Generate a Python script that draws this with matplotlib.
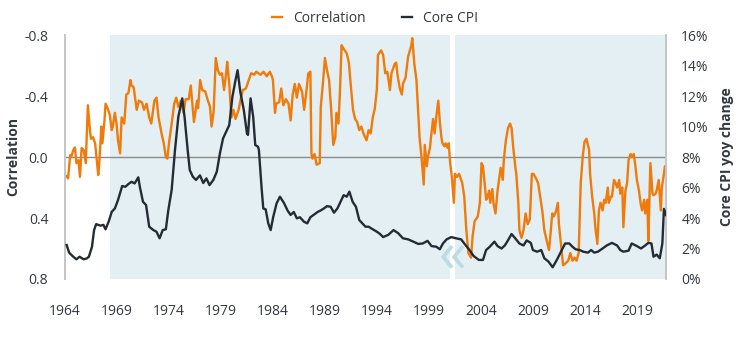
import matplotlib
matplotlib.use("Agg")
import matplotlib.pyplot as plt
from matplotlib.ticker import FixedLocator, FixedFormatter

plt.rcParams['font.family'] = ['Open Sans', 'DejaVu Sans']

# Core CPI yoy change (%)
cpi_years = [1964.16, 1964.4, 1964.8, 1965.1, 1965.4, 1965.8, 1966.1, 1966.3, 1966.6, 1966.8,
             1967.0, 1967.4, 1967.7, 1967.9, 1968.2, 1968.5, 1968.8, 1969.1, 1969.5, 1969.8,
             1970.1, 1970.4, 1970.7, 1971.05, 1971.2, 1971.5, 1971.8, 1972.1, 1972.5, 1972.8,
             1973.1, 1973.4, 1973.7, 1973.94, 1974.26, 1974.58, 1974.9, 1975.28, 1975.5, 1975.8,
             1976.0, 1976.3, 1976.6, 1976.98, 1977.3, 1977.6, 1977.9, 1978.27, 1978.6, 1978.9,
             1979.2, 1979.5, 1979.8, 1980.1, 1980.4, 1980.6, 1980.86, 1981.2, 1981.5, 1981.6,
             1981.85, 1982.1, 1982.3, 1982.56, 1982.65, 1982.9, 1983.07, 1983.3, 1983.55, 1983.78,
             1984.03, 1984.35, 1984.67, 1985.05, 1985.4, 1985.7, 1986.0, 1986.3, 1986.6, 1986.98,
             1987.3, 1987.6, 1987.9, 1988.3, 1988.6, 1988.9, 1989.2, 1989.55, 1989.87, 1990.2,
             1990.5, 1990.8, 1991.1, 1991.35, 1991.66, 1991.98, 1992.3, 1992.6, 1992.9, 1993.2,
             1993.6, 1994.0, 1994.3, 1994.6, 1995.1, 1995.6, 1996.05, 1996.5, 1997.0, 1997.5,
             1997.97, 1998.4, 1998.87, 1999.25, 1999.7, 2000.05, 2000.35, 2000.7, 2001.16, 2001.6,
             2002.1, 2002.4, 2002.9, 2003.3, 2003.8, 2004.2, 2004.5, 2004.86, 2005.3, 2005.6,
             2005.98, 2006.3, 2006.6, 2006.95, 2007.3, 2007.7, 2008.1, 2008.4, 2008.8, 2009.0,
             2009.4, 2009.8, 2010.1, 2010.5, 2010.9, 2011.3, 2011.7, 2012.1, 2012.5, 2012.8,
             2013.1, 2013.5, 2013.85, 2014.3, 2014.6, 2014.9, 2015.25, 2015.7, 2016.1, 2016.6,
             2017.1, 2017.4, 2017.7, 2018.2, 2018.5, 2019.0, 2019.4, 2019.8, 2020.1, 2020.4,
             2020.6, 2020.9, 2021.2, 2021.45, 2021.6, 2021.8]
cpi_values = [2.23, 1.73, 1.46, 1.29, 1.46, 1.29, 1.35, 1.46, 2.12, 3.21,
              3.6, 3.5, 3.55, 3.26, 3.76, 4.41, 4.63, 5.18, 6.1, 6.05,
              6.23, 6.38, 6.27, 6.67, 6.05, 5.07, 4.85, 3.43, 3.21, 3.1,
              2.67, 3.21, 3.26, 4.52, 5.84, 8.46, 10.64, 11.85, 10.64, 8.46,
              7.15, 6.71, 6.5, 6.8, 6.3, 6.6, 6.16, 6.5, 7.04, 8.24,
              9.22, 9.66, 10.1, 11.95, 13.05, 13.7, 12.28, 11.08, 9.55, 9.45,
              11.85, 10.64, 8.79, 8.68, 8.46, 6.05, 4.63, 4.57, 3.65, 3.21,
              4.08, 4.96, 5.4, 5.0, 4.5, 4.2, 4.4, 3.98, 4.05, 3.76,
              3.65, 4.05, 4.2, 4.4, 4.5, 4.63, 4.78, 4.74, 4.35, 4.63,
              5.07, 5.5, 5.4, 5.73, 5.07, 4.74, 3.87, 3.65, 3.43, 3.43,
              3.26, 3.1, 2.95, 2.75, 2.9, 3.21, 3.0, 2.67, 2.6, 2.45,
              2.3, 2.33, 2.5, 2.16, 2.12, 1.95, 2.33, 2.6, 2.75, 2.67,
              2.6, 2.33, 1.9, 1.51, 1.25, 1.25, 1.9, 2.12, 2.45, 2.16,
              2.0, 2.2, 2.53, 2.95, 2.67, 2.33, 2.2, 2.53, 2.37, 1.9,
              1.79, 1.9, 1.36, 1.14, 0.77, 1.25, 1.79, 2.33, 2.33, 2.12,
              1.95, 1.9, 1.79, 1.73, 1.9, 1.73, 1.79, 2.0, 2.2, 2.37,
              2.2, 1.9, 1.79, 1.86, 2.33, 2.16, 2.0, 2.2, 2.37, 2.33,
              1.46, 1.6, 1.36, 2.33, 4.6, 4.2]

# Correlation (left axis, inverted)
corr_years = [1964.16, 1964.3, 1964.5, 1964.6, 1964.8, 1964.96, 1965.1, 1965.3, 1965.44, 1965.6,
              1965.8, 1966.0, 1966.2, 1966.4, 1966.5, 1966.7, 1966.9, 1967.2, 1967.3, 1967.5,
              1967.6, 1967.8, 1967.9, 1968.1, 1968.3, 1968.5, 1968.6, 1968.8, 1968.96, 1969.1,
              1969.3, 1969.45, 1969.7, 1969.9, 1970.1, 1970.3, 1970.4, 1970.6, 1970.9, 1971.1,
              1971.4, 1971.6, 1971.85, 1972.1, 1972.3, 1972.6, 1972.8, 1973.0, 1973.3, 1973.5,
              1973.7, 1973.85, 1974.0, 1974.3, 1974.5, 1974.7, 1974.9, 1975.15, 1975.4, 1975.6,
              1975.9, 1976.1, 1976.2, 1976.4, 1976.7, 1976.8, 1977.0, 1977.2, 1977.5, 1977.7,
              1977.95, 1978.1, 1978.3, 1978.4, 1978.5, 1978.7, 1978.9, 1979.1, 1979.3, 1979.5,
              1979.6, 1979.8, 1980.0, 1980.2, 1980.4, 1980.7, 1980.9, 1981.1, 1981.4, 1981.6,
              1981.9, 1982.2, 1982.4, 1982.8, 1983.1, 1983.4, 1983.7, 1983.9, 1984.0, 1984.2,
              1984.3, 1984.6, 1984.8, 1985.0, 1985.25, 1985.5, 1985.7, 1985.9, 1986.1, 1986.3,
              1986.5, 1986.8, 1987.0, 1987.2, 1987.4, 1987.6, 1987.7, 1987.8, 1988.0, 1988.2,
              1988.5, 1988.6, 1988.8, 1989.0, 1989.2, 1989.4, 1989.6, 1989.8, 1990.0, 1990.1,
              1990.3, 1990.45, 1990.6, 1990.8, 1991.1, 1991.3, 1991.5, 1991.7, 1991.9, 1992.1,
              1992.3, 1992.5, 1992.7, 1993.0, 1993.2, 1993.4, 1993.6, 1993.8, 1994.0, 1994.1,
              1994.4, 1994.6, 1994.8, 1995.0, 1995.25, 1995.4, 1995.7, 1995.85, 1996.0, 1996.2,
              1996.4, 1996.5, 1996.75, 1997.0, 1997.3, 1997.4, 1997.6, 1997.8, 1998.0, 1998.1,
              1998.3, 1998.5, 1998.6, 1998.8, 1998.9, 1999.1, 1999.2, 1999.4, 1999.55, 1999.7,
              1999.9, 2000.05, 2000.2, 2000.3, 2000.5, 2000.6, 2000.8, 2000.9, 2001.05, 2001.2,
              2001.4, 2001.5, 2001.7, 2001.9, 2002.2, 2002.4, 2002.6, 2002.8, 2003.05, 2003.2,
              2003.4, 2003.7, 2003.9, 2004.06, 2004.2, 2004.4, 2004.5, 2004.6, 2004.8, 2004.9,
              2005.1, 2005.2, 2005.4, 2005.6, 2005.9, 2006.1, 2006.2, 2006.4, 2006.6, 2006.8,
              2006.95, 2007.1, 2007.3, 2007.4, 2007.6, 2007.7, 2007.9, 2008.1, 2008.3, 2008.5,
              2008.7, 2008.9, 2009.05, 2009.3, 2009.5, 2009.7, 2009.9, 2010.1, 2010.4, 2010.55,
              2010.7, 2010.86, 2011.0, 2011.2, 2011.4, 2011.5, 2011.7, 2011.9, 2012.1, 2012.4,
              2012.6, 2012.8, 2013.0, 2013.2, 2013.4, 2013.5, 2013.6, 2013.8, 2013.96, 2014.15,
              2014.4, 2014.5, 2014.7, 2014.9, 2015.0, 2015.2, 2015.35, 2015.5, 2015.7, 2015.85,
              2016.0, 2016.2, 2016.3, 2016.5, 2016.6, 2016.8, 2016.95, 2017.1, 2017.3, 2017.4,
              2017.6, 2017.7, 2017.9, 2018.06, 2018.2, 2018.4, 2018.5, 2018.7, 2018.86, 2019.0,
              2019.2, 2019.35, 2019.5, 2019.7, 2019.8, 2020.0, 2020.1, 2020.3, 2020.5, 2020.6,
              2020.8, 2020.9, 2021.1, 2021.3, 2021.4, 2021.6, 2021.7, 2021.8]
corr_values = [0.125, 0.14, -0.013, 0.0, -0.046, -0.063, 0.04, 0.02, 0.13, -0.06,
               -0.046, 0.04, -0.34, -0.177, -0.12, -0.13, -0.09, 0.118, 0.04, -0.2,
               -0.09, -0.24, -0.35, -0.32, -0.28, -0.177, -0.2, -0.29, -0.22, -0.11,
               -0.024, -0.26, -0.22, -0.41, -0.42, -0.505, -0.47, -0.46, -0.31, -0.37,
               -0.36, -0.31, -0.35, -0.26, -0.22, -0.37, -0.39, -0.26, -0.15, -0.09,
               0.0, 0.01, -0.09, -0.24, -0.35, -0.39, -0.33, -0.37, -0.29, -0.38,
               -0.38, -0.47, -0.39, -0.23, -0.37, -0.32, -0.505, -0.44, -0.43, -0.38,
               -0.33, -0.2, -0.3, -0.48, -0.65, -0.57, -0.54, -0.55, -0.44, -0.55,
               -0.625, -0.48, -0.26, -0.31, -0.25, -0.31, -0.38, -0.44, -0.45, -0.49,
               -0.55, -0.54, -0.56, -0.54, -0.56, -0.53, -0.56, -0.53, -0.505, -0.29,
               -0.35, -0.36, -0.45, -0.34, -0.38, -0.35, -0.24, -0.41, -0.48, -0.39,
               -0.48, -0.43, -0.31, -0.42, -0.55, -0.56, -0.024, 0.01, -0.02, 0.05,
               0.04, -0.33, -0.48, -0.65, -0.57, -0.505, -0.31, -0.08, -0.13, -0.29,
               -0.22, -0.44, -0.734, -0.71, -0.68, -0.62, -0.46, -0.31, -0.25, -0.23,
               -0.177, -0.2, -0.155, -0.11, -0.177, -0.155, -0.26, -0.32, -0.45, -0.67,
               -0.7, -0.67, -0.55, -0.56, -0.44, -0.55, -0.61, -0.62, -0.53, -0.45,
               -0.41, -0.48, -0.52, -0.66, -0.73, -0.78, -0.61, -0.505, -0.26, -0.13,
               0.01, 0.18, -0.08, 0.06, 0.0, -0.06, -0.13, -0.25, -0.155, -0.26,
               -0.37, -0.23, -0.13, -0.09, -0.07, -0.09, -0.06, -0.09, 0.04, 0.13,
               0.3, 0.11, 0.13, 0.11, 0.17, 0.26, 0.48, 0.63, 0.66, 0.52,
               0.42, 0.39, 0.3, 0.04, 0.06, 0.2, 0.28, 0.27, 0.22, 0.3,
               0.21, 0.3, 0.37, 0.22, 0.07, 0.15, 0.02, -0.11, -0.19, -0.22,
               -0.19, -0.07, 0.06, 0.11, 0.3, 0.48, 0.53, 0.48, 0.37, 0.44,
               0.41, 0.11, 0.11, 0.14, 0.17, 0.26, 0.35, 0.48, 0.57, 0.61,
               0.5, 0.37, 0.39, 0.36, 0.3, 0.44, 0.57, 0.71, 0.7, 0.68,
               0.63, 0.68, 0.66, 0.68, 0.63, 0.39, 0.17, -0.01, -0.1, -0.12,
               -0.05, 0.11, 0.26, 0.37, 0.46, 0.57, 0.35, 0.3, 0.35, 0.28,
               0.3, 0.2, 0.3, 0.26, 0.26, 0.15, 0.17, 0.2, 0.15, 0.24,
               0.2, 0.46, 0.22, 0.17, 0.02, -0.02, 0.0, -0.02, 0.06, 0.15,
               0.22, 0.3, 0.35, 0.28, 0.37, 0.28, 0.55, 0.04, 0.24, 0.25,
               0.24, 0.22, 0.15, 0.35, 0.2, 0.11, 0.06, 0.08]

# shaded periods
shade_periods = [(1968.3, 2001.0), (2001.5, 2021.8)]

year_ticks = [1964, 1969, 1974, 1979, 1984, 1989, 1994, 1999, 2004, 2009, 2014, 2019]
corr_ticks = [-0.8, -0.4, 0.0, 0.4, 0.8]
corr_labels = ['-0.8', '-0.4', '0.0', '0.4', '0.8']
cpi_ticks = [0, 2, 4, 6, 8, 10, 12, 14, 16]

orange = '#F07A0A'
navy = '#252B35'
text_col = '#333840'
spine_col = '#C4C6C8'

fig = plt.figure(figsize=(7.4, 3.38), dpi=100)
fig.subplots_adjust(left=0.0878, right=0.9, bottom=0.1746, top=0.896)
ax = fig.add_subplot(111)
ax2 = ax.twinx()

for start, end in shade_periods:
    ax.axvspan(start, end, color='#E3EFF3', lw=0, zorder=0)

ax.axhline(0, color='#8C8C8C', lw=1.0, zorder=1)
l1, = ax.plot(corr_years, corr_values, color=orange, lw=1.7, zorder=3, label='Correlation')
l2, = ax2.plot(cpi_years, cpi_values, color=navy, lw=1.7, zorder=3, label='Core CPI')

ax.set_xlim(1964, 2021.8)
ax.set_ylim(0.8, -0.8)
ax2.set_ylim(0, 16)

ax.xaxis.set_major_locator(FixedLocator(year_ticks))
ax.yaxis.set_major_locator(FixedLocator(corr_ticks))
ax.yaxis.set_major_formatter(FixedFormatter(corr_labels))
ax2.yaxis.set_major_locator(FixedLocator(cpi_ticks))
ax2.set_yticklabels([f'{t}%' for t in cpi_ticks])

for a in (ax, ax2):
    a.tick_params(length=0, labelsize=10, colors=text_col)
    a.spines['top'].set_visible(False)
    a.spines['bottom'].set_visible(False)
    a.spines['left'].set_color(spine_col)
    a.spines['right'].set_color(spine_col)
    a.spines['left'].set_linewidth(1.3)
    a.spines['right'].set_linewidth(1.3)
ax.tick_params(axis='y', pad=12)
ax.tick_params(axis='x', pad=18)
ax2.tick_params(axis='y', pad=11)

# axis titles placed in figure coordinates
fig.text(13 / 740, 1 - 157 / 338, 'Correlation', rotation=90, ha='center', va='center',
         fontsize=10, fontweight='bold', color=text_col)
fig.text(727 / 740, 1 - 157 / 338, 'Core CPI yoy change', rotation=90, ha='center', va='center',
         fontsize=10, fontweight='bold', color=text_col)

# chevron marker at the break between shaded periods
ax.text(0.645, 0.085, '\u00ab', transform=ax.transAxes, ha='center', va='center',
        fontsize=40, color='#BCDCE4', zorder=2, family='Open Sans')

fig.legend(handles=[l1, l2], loc='center', bbox_to_anchor=(0.507, 0.945), ncol=2,
           frameon=False, fontsize=10, handlelength=0.7, handletextpad=0.8,
           columnspacing=2.6, labelcolor=text_col)

fig.savefig('out.png', dpi=100)
